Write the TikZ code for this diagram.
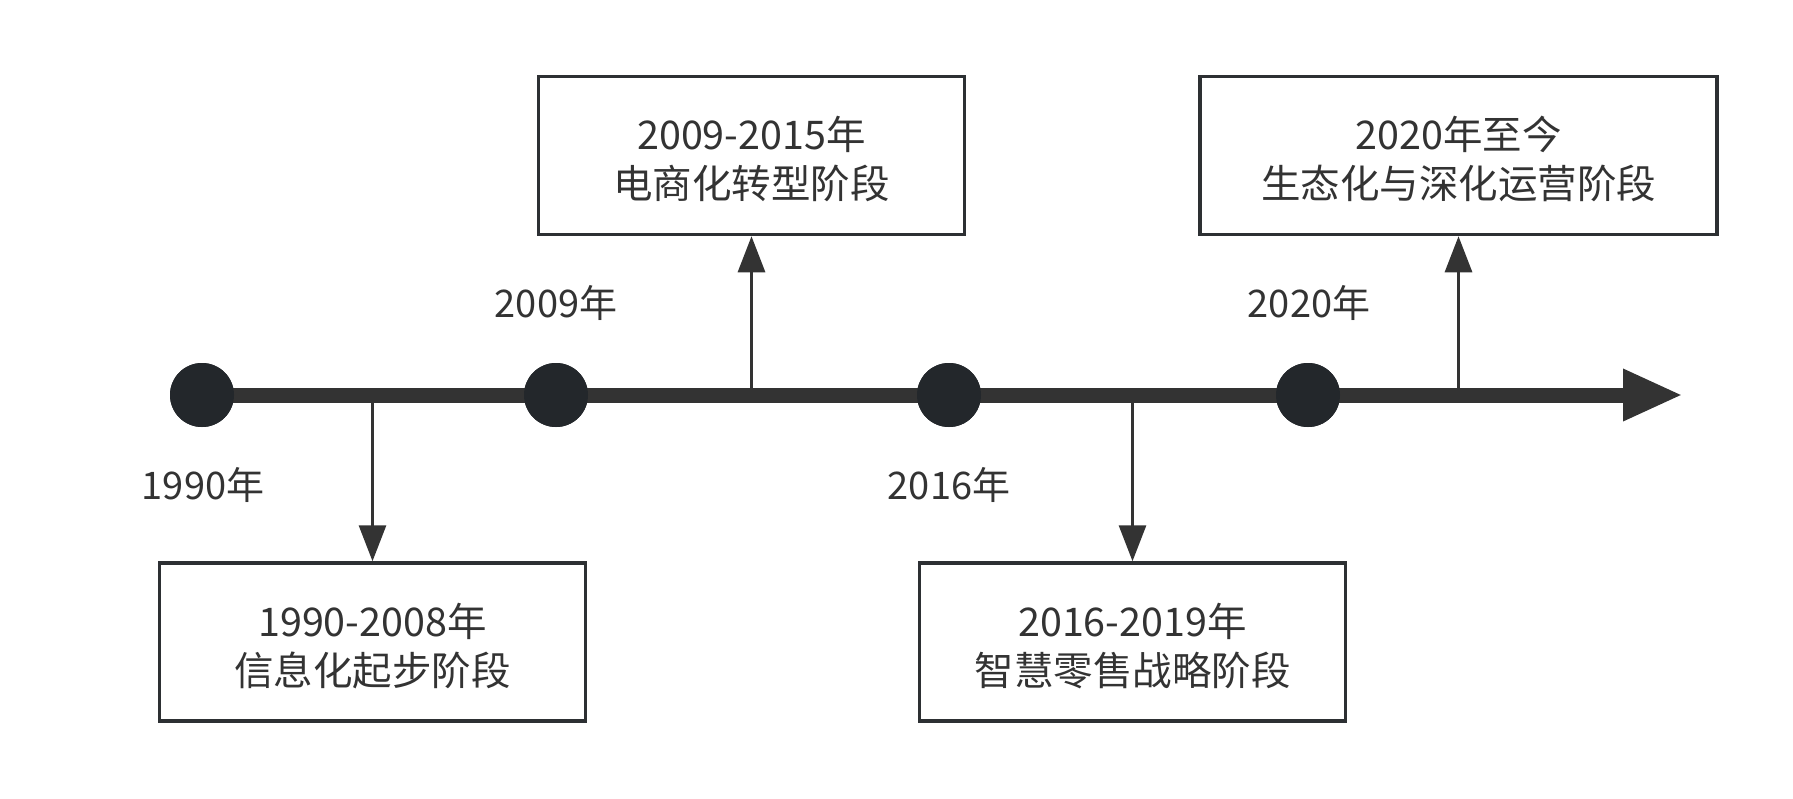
\documentclass[tikz,border=0pt]{standalone}
\usepackage{fontspec}
\setmainfont{Noto Sans CJK SC}
\usepackage{tikz}
\usetikzlibrary{arrows.meta}
\definecolor{linec}{HTML}{333333}
\definecolor{dotc}{HTML}{23272B}
\definecolor{boxc}{HTML}{2D3033}

\begin{document}
\begin{tikzpicture}[
x=1pt, y=-1pt,
every node/.style={font=\fontsize{38pt}{52pt}\selectfont, text=linec},
dot/.style={circle, fill=dotc, minimum size=64pt, inner sep=0},
stage/.style={rectangle, draw=boxc, line width=3.5pt, minimum width=426pt, minimum height=158pt, align=center, fill=white, font=\fontsize{39.5pt}{49pt}\selectfont, text height=90pt},
timeline/.style={draw=linec, line width=15pt, -{Triangle[length=60pt,width=48pt]}},
link/.style={draw=linec, line width=3pt, -{Triangle[length=36pt,width=27pt]}}
]
\useasboundingbox (0,0) rectangle (1793,798);
% time points
\node[dot] (c1) at (202,395) {};
\node[dot] (c2) at (556,395) {};
\node[dot] (c3) at (949,395) {};
\node[dot] (c4) at (1308,395) {};
\coordinate (tend) at (1683,395);
% years
\node (y1) at (203,485) {1990年};
\node (y2) at (556,303) {2009年};
\node (y3) at (949,485) {2016年};
\node (y4) at (1309,303) {2020年};
% stages
\node[stage] (s1) at (372.5,642) {1990-2008年\\信息化起步阶段};
\node[stage] (s2) at (751.5,155.5) {2009-2015年\\电商化转型阶段};
\node[stage] (s3) at (1132.5,642) {2016-2019年\\智慧零售战略阶段};
\node[stage, minimum width=517pt] (s4) at (1458.5,155.5) {2020年至今\\生态化与深化运营阶段};
% connectors
\draw[link] (s1.north |- c1) -- (s1.north);
\draw[link] (s2.south |- c1) -- (s2.south);
\draw[link] (s3.north |- c1) -- (s3.north);
\draw[link] (s4.south |- c1) -- (s4.south);
\draw[timeline] (c1.center) -- (tend);
\foreach \p in {c1,c2,c3,c4}
  \fill[dotc] (\p) circle (32pt);
\end{tikzpicture}
\end{document}
